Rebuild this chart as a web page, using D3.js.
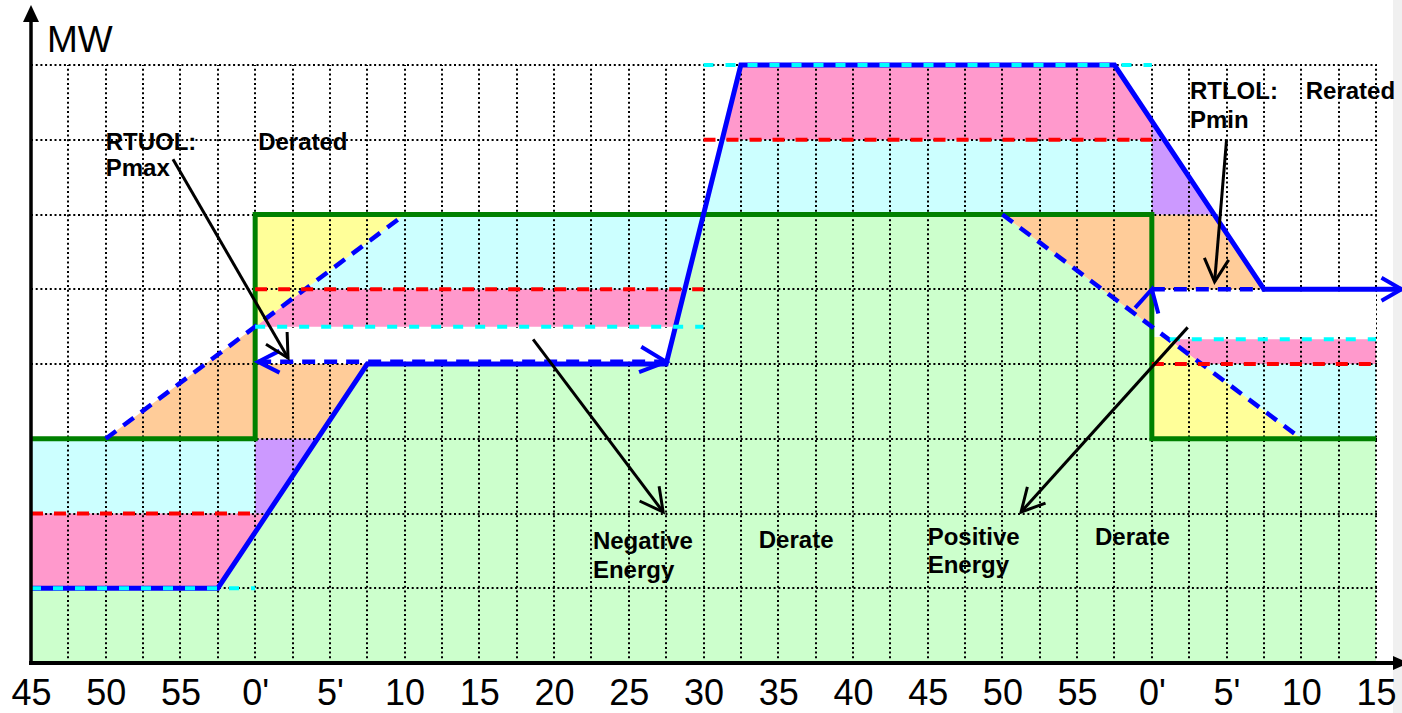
<!DOCTYPE html>
<html>
<head>
<meta charset="utf-8">
<script src="https://cdn.jsdelivr.net/npm/d3@7"></script>
<style>
html, body { margin: 0; padding: 0; background: #fff; }
svg { display: block; }
text { font-family: Arial, "Liberation Sans", sans-serif; fill: #000; }
</style>
</head>
<body>
<div id="main"></div>
<script>
// time in minutes after the first "0'" mark, output in MW grid units
var tickLabels = ["45", "50", "55", "0'", "5'", "10", "15", "20", "25", "30", "35", "40", "45", "50", "55", "0'", "5'", "10", "15"];
var tickMinutes = [-15, -10, -5, 0, 5, 10, 15, 20, 25, 30, 35, 40, 45, 50, 55, 60, 65, 70, 75];
var gridLevels = [1, 2, 3, 4, 5, 6, 7, 8];

var actualMW = [[-15, 1], [-2.5, 1], [7.5, 4], [27.5, 4], [32.5, 8], [57.5, 8], [67.5, 5], [76.7, 5]];
var baseMW = [[-15, 3], [0, 3], [0, 6], [60, 6], [60, 3], [75, 3]];
var rampUp = [[-10, 3], [10, 6]];
var rampDown = [[50, 6], [70, 3]];
var rtuolSpan = [[0.2, 4.03], [27.5, 4.03]];
var rtlolSpan = [[60, 5], [67.5, 5]];

var redLimits = [
    [[-15, 2], [0, 2]],
    [[0, 5], [30, 5]],
    [[30, 7], [60, 7]],
    [[60, 4], [75, 4]]
];
var cyanLimits = [
    [[-15, 1], [0, 1]],
    [[0, 4.5], [30, 4.5]],
    [[30, 8], [60, 8]],
    [[61.2, 4.33], [75, 4.33]]
];

var greenArea = [[[-15, 0], [-15, 1], [-2.5, 1], [7.5, 4], [27.5, 4], [30, 6], [50, 6], [60, 4.5], [60, 3], [75, 3], [75, 0]]];
var cyanArea = [
    [[-15, 2], [0, 2], [0, 3], [-15, 3]],
    [[3.33, 5], [10, 6], [30, 6], [28.75, 5]],
    [[30, 6], [31.25, 7], [60, 7], [60, 6]],
    [[63.33, 4], [75, 4], [75, 3], [70, 3]]
];
var pinkArea = [
    [[-15, 1], [-2.5, 1], [0.83, 2], [-15, 2]],
    [[0, 4.5], [3.33, 5], [28.75, 5], [28.125, 4.5]],
    [[31.25, 7], [32.5, 8], [57.5, 8], [60, 7.25], [60, 7]],
    [[61.13, 4.33], [75, 4.33], [75, 4], [63.33, 4]]
];
var yellowArea = [
    [[0, 4.5], [0, 6], [10, 6]],
    [[60, 3], [70, 3], [60, 4.5]]
];
var orangeArea = [
    [[-10, 3], [0, 4.5], [0, 3]],
    [[0, 3], [4.17, 3], [7.5, 4], [0, 4]],
    [[50, 6], [60, 6], [60, 4.5]],
    [[60, 6], [64.17, 6], [67.5, 5], [60, 5]]
];
var purpleArea = [
    [[0, 2], [0.83, 2], [4.17, 3], [0, 3]],
    [[60, 7.25], [64.17, 6], [60, 6]]
];
var gapArea = [
    [[0, 4.03], [27.54, 4.03], [28.1, 4.48], [0, 4.48]],
    [[60, 4.97], [75, 4.97], [75, 4.36], [60, 4.36]]
];

var pointerArrows = [
    [[-5.5, 6.74], [2.2, 4.08]],
    [[18.6, 4.33], [27.3, 2.02]],
    [[62.4, 4.49], [51.25, 2.02]],
    [[65.0, 7.0], [64.2, 5.1]]
];

var notes = [
    ["RTUOL:", -10, 6.86], ["Pmax", -10, 6.51], ["Derated", 0.2, 6.86],
    ["Negative", 22.6, 1.53], ["Energy", 22.6, 1.14],
    ["Derate", 33.7, 1.54],
    ["Positive", 45.0, 1.58], ["Energy", 45.0, 1.2],
    ["Derate", 56.2, 1.58],
    ["RTLOL:", 62.55, 7.545], ["Rerated", 70.3, 7.545], ["Pmin", 62.55, 7.16]
];

var ctx = { w: 1402, h: 713 };

var createViz = function () {
    var svg = d3.select("#main").append("svg")
        .attr("width", ctx.w)
        .attr("height", ctx.h);

    var x = d3.scaleLinear().domain([-15, 75]).range([31, 1376]);
    var y = d3.scaleLinear().domain([0, 8]).range([663, 65]);
    var line = d3.line().x(d => x(d[0])).y(d => y(d[1]));

    // grey margin on the right of the slide
    svg.append("rect").attr("x", 1393).attr("y", 0).attr("width", 9).attr("height", ctx.h).attr("fill", "#f0f0f0");

    var fills = [
        [greenArea, "#ccffcc"], [cyanArea, "#ccffff"], [pinkArea, "#ff99cc"],
        [yellowArea, "#ffff99"], [orangeArea, "#ffcc99"], [purpleArea, "#cc99ff"]
    ];
    fills.forEach(function (f) {
        svg.append("g").selectAll("path").data(f[0]).enter().append("path")
            .attr("d", d => line(d) + "Z")
            .attr("fill", f[1]);
    });

    // dotted grid, snapped to whole pixels so the dots stay crisp
    var grid = svg.append("g").attr("stroke", "#000").attr("stroke-width", 2).attr("stroke-dasharray", "2,2.7");
    grid.selectAll("line.v").data(d3.range(-12.5, 75.1, 2.5)).enter().append("line")
        .attr("x1", d => Math.round(x(d))).attr("x2", d => Math.round(x(d)))
        .attr("y1", y(0)).attr("y2", Math.round(y(8)));
    grid.selectAll("line.h").data(gridLevels).enter().append("line")
        .attr("x1", x(-15)).attr("x2", Math.round(x(75)) + 1)
        .attr("y1", d => Math.round(y(d))).attr("y2", d => Math.round(y(d)));

    svg.append("g").selectAll("path").data(gapArea).enter().append("path")
        .attr("d", d => line(d) + "Z").attr("fill", "#fff");

    // generation schedule (green step)
    svg.append("path").attr("d", line(baseMW)).attr("fill", "none")
        .attr("stroke", "#008000").attr("stroke-width", 5).attr("stroke-linejoin", "miter");

    // ramp limited dashed lines and spans
    svg.append("g").selectAll("path").data([rampUp, rampDown, rtuolSpan, rtlolSpan]).enter().append("path")
        .attr("d", line).attr("fill", "none")
        .attr("stroke", "#0000ff").attr("stroke-width", 4.5).attr("stroke-dasharray", "13,9");

    // actual output
    svg.append("path").attr("d", line(actualMW)).attr("fill", "none")
        .attr("stroke", "#0000ff").attr("stroke-width", 5).attr("stroke-linejoin", "miter");

    svg.append("g").selectAll("path").data(redLimits).enter().append("path")
        .attr("d", line).attr("fill", "none")
        .attr("stroke", "#ff0000").attr("stroke-width", 4).attr("stroke-dasharray", "12,11");
    svg.append("g").selectAll("path").data(cyanLimits).enter().append("path")
        .attr("d", line).attr("fill", "none")
        .attr("stroke", "#00ffff").attr("stroke-width", 4).attr("stroke-dasharray", "10,12");

    function chevron(tip, backDeg, len, spread, color, width) {
        var a1 = (backDeg - spread) * Math.PI / 180;
        var a2 = (backDeg + spread) * Math.PI / 180;
        var p = d3.path();
        p.moveTo(tip[0] + len * Math.cos(a1), tip[1] + len * Math.sin(a1));
        p.lineTo(tip[0], tip[1]);
        p.lineTo(tip[0] + len * Math.cos(a2), tip[1] + len * Math.sin(a2));
        svg.append("path").attr("d", p.toString()).attr("fill", "none")
            .attr("stroke", color).attr("stroke-width", width)
            .attr("stroke-linejoin", "miter");
    }

    // blue arrow heads
    chevron([x(rtuolSpan[0][0]), y(rtuolSpan[0][1])], 0, 24, 27, "#0000ff", 4);
    chevron([x(rtuolSpan[1][0]), y(rtuolSpan[1][1])], 185, 29, 26, "#0000ff", 4);
    chevron([x(rtlolSpan[0][0]), y(rtlolSpan[0][1])], 103.5, 25, 28.5, "#0000ff", 4);
    var last = actualMW[actualMW.length - 1];
    chevron([x(last[0]), y(last[1])], 180, 23, 30, "#0000ff", 4);

    // black pointers
    pointerArrows.forEach(function (a) {
        var s = [x(a[0][0]), y(a[0][1])], e = [x(a[1][0]), y(a[1][1])];
        svg.append("line").attr("x1", s[0]).attr("y1", s[1]).attr("x2", e[0]).attr("y2", e[1])
            .attr("stroke", "#000").attr("stroke-width", 3);
        var back = Math.atan2(s[1] - e[1], s[0] - e[0]) * 180 / Math.PI;
        chevron(e, back, 26, 28, "#000", 3);
    });

    // axes
    svg.append("line").attr("x1", x(-15)).attr("x2", x(-15)).attr("y1", y(0) + 2).attr("y2", 20)
        .attr("stroke", "#000").attr("stroke-width", 3.5);
    svg.append("path").attr("d", "M31,5L23,22L39,22Z").attr("fill", "#000");
    svg.append("line").attr("x1", x(-15) - 2).attr("x2", 1395).attr("y1", y(0)).attr("y2", y(0))
        .attr("stroke", "#000").attr("stroke-width", 4);
    svg.append("path").attr("d", "M1409," + y(0) + "L1393," + (y(0) - 7) + "L1393," + (y(0) + 7) + "Z").attr("fill", "#000");

    var axis = svg.append("g").attr("transform", "translate(0," + y(0) + ")")
        .call(d3.axisBottom(x).tickValues(tickMinutes).tickFormat((d, i) => tickLabels[i]).tickSize(0));
    axis.select(".domain").remove();
    axis.attr("font-family", "Arial, 'Liberation Sans', sans-serif").attr("font-size", 36);
    axis.selectAll("text").attr("dy", null).attr("y", 42).attr("fill", "#000");

    svg.append("text").attr("x", 47).attr("y", 52).style("font-size", "37px").text("MW");

    svg.append("g").selectAll("text").data(notes).enter().append("text")
        .attr("x", d => x(d[1])).attr("y", d => y(d[2]))
        .style("font-size", "24px").style("font-weight", "bold")
        .text(d => d[0]);
};

createViz();
</script>
</body>
</html>
